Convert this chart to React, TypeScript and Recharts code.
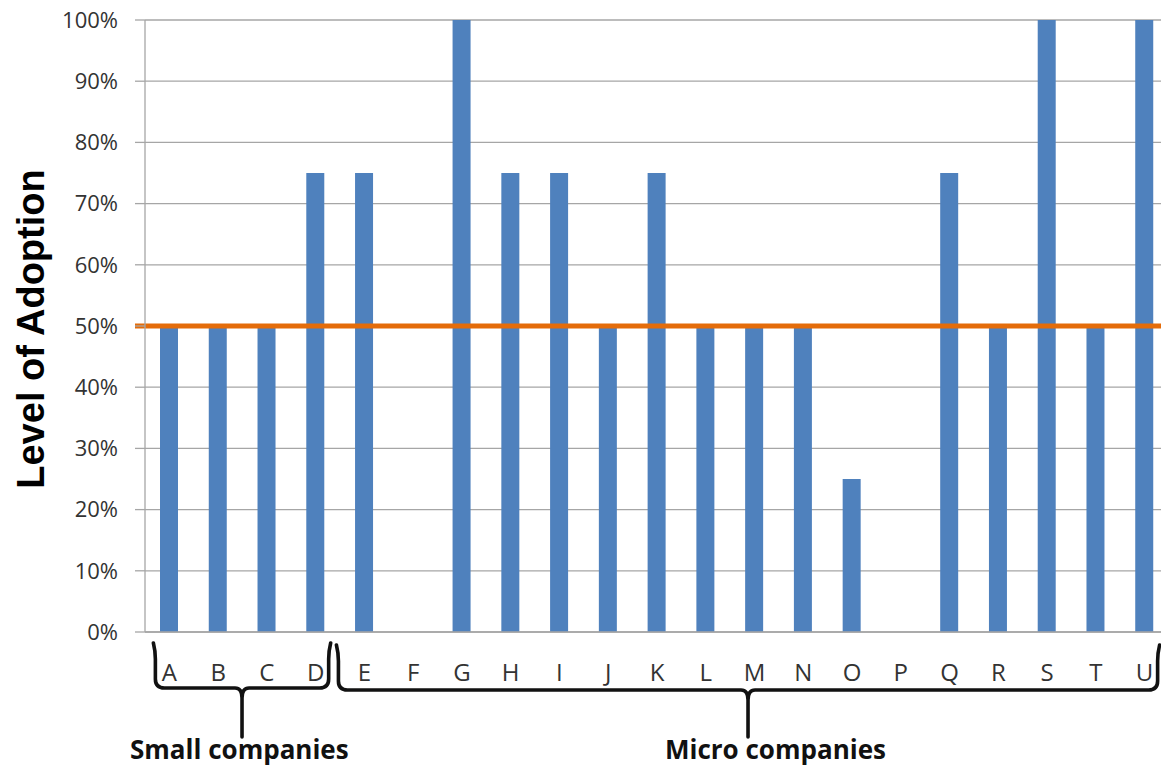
import React from "react";
import { BarChart, Bar, XAxis, YAxis, CartesianGrid, ReferenceLine } from "recharts";

// Companies surveyed (A–D small, E–U micro)
const companies = ["A", "B", "C", "D", "E", "F", "G", "H", "I", "J", "K", "L", "M", "N", "O", "P", "Q", "R", "S", "T", "U"];
// Level of adoption per company (share of 1)
const adoption = [0.5, 0.5, 0.5, 0.75, 0.75, 0, 1, 0.75, 0.75, 0.5, 0.75, 0.5, 0.5, 0.5, 0.25, 0, 0.75, 0.5, 1, 0.5, 1];
// Y axis tick values
const yTicks = [0, 0.1, 0.2, 0.3, 0.4, 0.5, 0.6, 0.7, 0.8, 0.9, 1];
// Adoption threshold
const threshold = 0.5;
// Company groups and the category range each covers
const groupNames = ["Small companies", "Micro companies"];
const groupRanges = [
  [0, 3],
  [4, 20],
];

const data = companies.map((name, i) => ({ name, value: adoption[i] }));

const CHART_W = 1175;
const CHART_H = 766;
const MARGIN = { top: 20, right: 6, bottom: 0, left: 0 };
const Y_AXIS_W = 145;
const X_AXIS_H = 134;
const PLOT_LEFT = MARGIN.left + Y_AXIS_W;
const PLOT_W = CHART_W - MARGIN.left - MARGIN.right - Y_AXIS_W;
const BAND = PLOT_W / companies.length;

const GRID = "#A6A6A6";
const TEXT = "#333333";
const FONT = "'Open Sans', 'Liberation Sans', sans-serif";

const pct = (v: number) => `${Math.round(v * 100)}%`;

// Curly brace under a run of categories: two arms, a bar, and a centre spike
function Brace({ xL, xR, yTop, yBar, yTip }: { xL: number; xR: number; yTop: number; yBar: number; yTip: number }) {
  const xm = (xL + xR) / 2;
  const r = 9;
  const d = [
    `M ${xL - 2} ${yTop} Q ${xL} ${yTop + 8} ${xL} ${yTop + 16} L ${xL} ${yBar - r} Q ${xL} ${yBar} ${xL + r} ${yBar} L ${xm - 7} ${yBar} Q ${xm} ${yBar} ${xm} ${yBar + 10} L ${xm} ${yTip}`,
    `M ${xR + 2} ${yTop} Q ${xR} ${yTop + 8} ${xR} ${yTop + 16} L ${xR} ${yBar - r} Q ${xR} ${yBar} ${xR - r} ${yBar} L ${xm + 7} ${yBar} Q ${xm} ${yBar} ${xm} ${yBar + 10}`,
  ].join(" ");
  return <path d={d} fill="none" stroke="#111" strokeWidth={3.6} strokeLinejoin="round" strokeLinecap="round" />;
}

export default function App() {
  const braceDefs = [
    { xL: PLOT_LEFT + (groupRanges[0][0] + 0.5) * BAND - 14, xR: PLOT_LEFT + (groupRanges[0][1] + 0.5) * BAND + 13, yTop: 643, yBar: 688, yTip: 737 },
    { xL: PLOT_LEFT + (groupRanges[1][0] + 0.5) * BAND - 26, xR: PLOT_LEFT + (groupRanges[1][1] + 0.5) * BAND + 13, yTop: 645, yBar: 690, yTip: 737 },
  ];
  const labelX = [130, 665];

  return (
    <div style={{ position: "absolute", left: 0, top: 0, width: 1161, height: 766, overflow: "hidden", background: "#fff" }}>
      <BarChart width={CHART_W} height={CHART_H} data={data} margin={MARGIN}>
        <CartesianGrid vertical={false} stroke={GRID} strokeWidth={1.3} />
        <XAxis
          dataKey="name"
          interval={0}
          height={X_AXIS_H}
          tickLine={false}
          tickSize={0}
          tickMargin={32}
          axisLine={{ stroke: GRID, strokeWidth: 1.3 }}
          tick={{ fill: TEXT, fontSize: 24, fontFamily: FONT }}
        />
        <YAxis
          width={Y_AXIS_W}
          domain={[0, 1]}
          ticks={yTicks}
          tickFormatter={pct}
          tickSize={10}
          tickMargin={17}
          tickLine={{ stroke: GRID, strokeWidth: 1.3 }}
          axisLine={{ stroke: GRID, strokeWidth: 1.3 }}
          tick={{ fill: TEXT, fontSize: 22, fontFamily: FONT }}
        />
        <Bar dataKey="value" fill="#4F81BD" barSize={18} isAnimationActive={false} />
        <ReferenceLine
          y={threshold}
          shape={(p: any) => (
            <line x1={p.x1 - 10} y1={p.y1} x2={p.x2 + 10} y2={p.y2} stroke="#E46C0A" strokeWidth={5} />
          )}
        />
      </BarChart>
      <svg width={1161} height={766} style={{ position: "absolute", left: 0, top: 0, pointerEvents: "none" }}>
        <text
          x={31}
          y={329}
          transform="rotate(-90 31 329)"
          textAnchor="middle"
          dominantBaseline="central"
          fontFamily="'Liberation Sans', Arial, sans-serif"
          fontWeight="bold"
          fontSize={38}
          fill="#000"
        >
          Level of Adoption
        </text>
        {braceDefs.map((b, i) => (
          <Brace key={i} {...b} />
        ))}
        {groupNames.map((g, i) => (
          <text key={g} x={labelX[i]} y={759} fontFamily={FONT} fontWeight="bold" fontSize={26} fill="#111">
            {g}
          </text>
        ))}
      </svg>
    </div>
  );
}
